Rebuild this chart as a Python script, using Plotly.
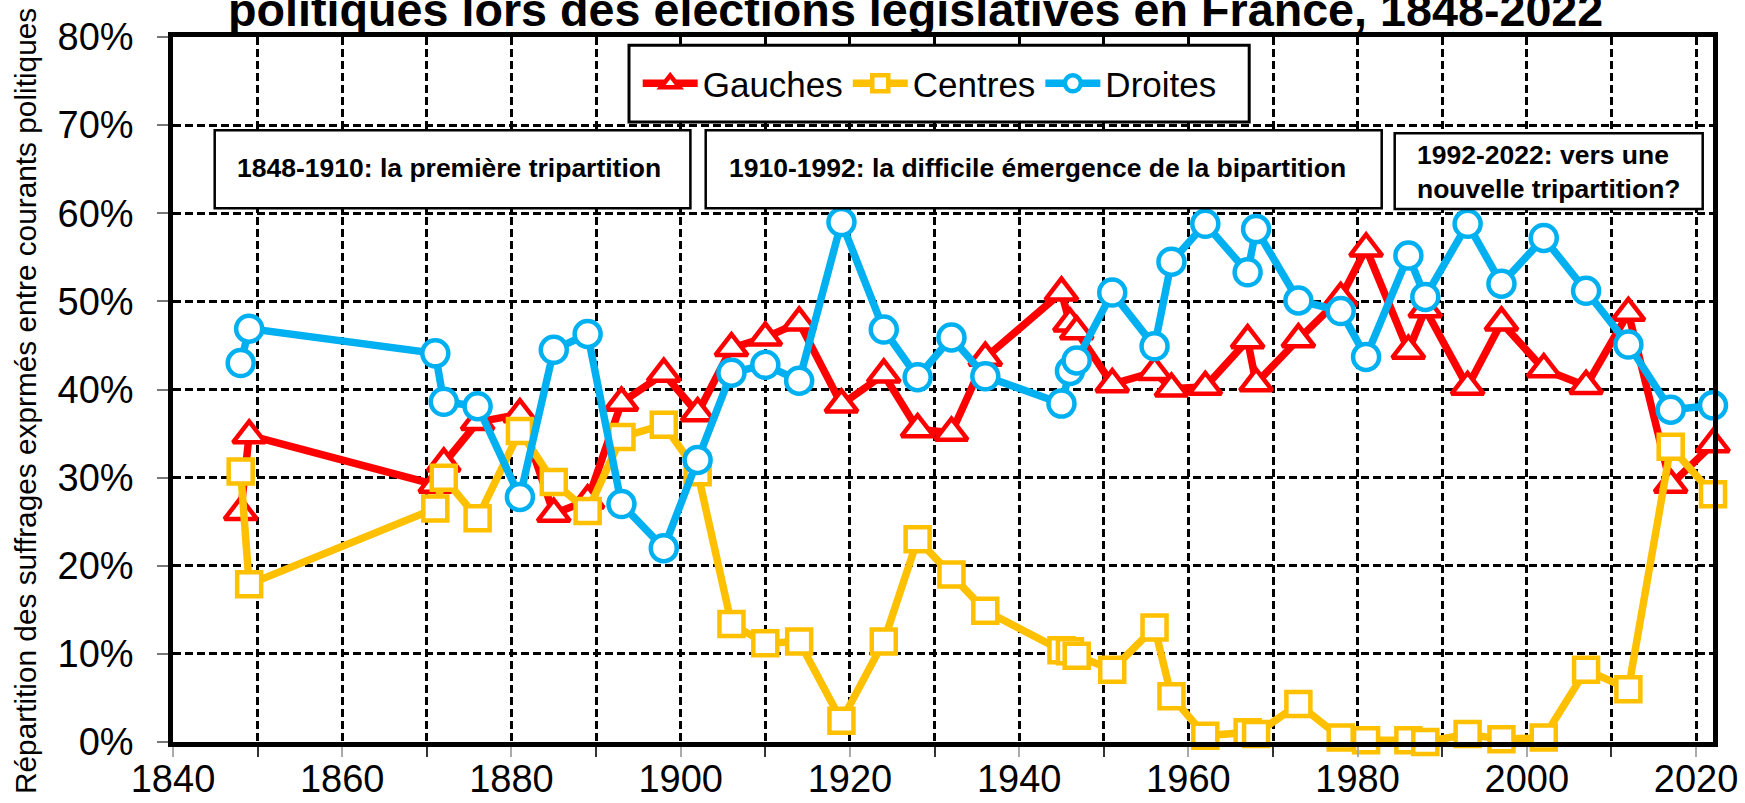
import plotly.graph_objects as go

# ---------------- data ----------------
years = [1848, 1849, 1871, 1872, 1876, 1881, 1885, 1889, 1893, 1898, 1902, 1906, 1910,
         1914, 1919, 1924, 1928, 1932, 1936, 1945, 1946, 1946.8, 1951, 1956, 1958, 1962,
         1967, 1968, 1973, 1978, 1981, 1986, 1988, 1993, 1997, 2002, 2007, 2012, 2017, 2022]

gauches = [26.1, 34.8, 29.2, 31.6, 36.3, 37.2, 25.9, 27.4, 38.5, 41.8, 37.3, 44.7, 45.9,
           47.6, 38.3, 41.7, 35.5, 35.1, 43.6, 51.0, 47.5, 46.6, 40.6, 42.0, 40.1, 40.3,
           45.6, 40.7, 45.7, 50.4, 56.0, 44.4, 49.1, 40.3, 47.6, 42.3, 40.4, 48.7, 29.2, 33.8]

centres = [30.7, 17.9, 26.5, 30.0, 25.4, 35.3, 29.5, 26.2, 34.6, 36.0, 30.6, 13.4, 11.2,
           11.4, 2.4, 11.4, 23.0, 19.0, 14.9, 10.4, 10.3, 9.8, 8.2, 13.0, 5.2, 0.7,
           1.1, 0.9, 4.3, 0.5, 0.2, 0.2, 0.0, 0.9, 0.3, 0.5, 8.2, 6.0, 33.5, 28.1]

droites = [43.0, 46.9, 44.1, 38.6, 38.1, 27.8, 44.5, 46.3, 27.0, 22.0, 32.0, 41.9, 42.8,
           41.0, 59.0, 46.8, 41.4, 45.9, 41.5, 38.4, 42.1, 43.3, 51.0, 44.9, 54.5, 58.8,
           53.3, 58.2, 50.1, 48.9, 43.7, 55.2, 50.5, 58.8, 52.0, 57.2, 51.2, 45.1, 37.7, 38.2]

series_names = ["Gauches", "Centres", "Droites"]
x_ticks = [1840, 1860, 1880, 1900, 1920, 1940, 1960, 1980, 2000, 2020]
y_ticks = [0, 10, 20, 30, 40, 50, 60, 70, 80]
y_ticktext = ["%d%%" % v for v in y_ticks]

title_text = "politiques lors des élections législatives en France, 1848-2022"
ytitle_text = "Répartition des suffrages exprmés entre courants politiques"
box_texts = ["1848-1910: la première tripartition",
             "1910-1992: la difficile émergence de la bipartition",
             "1992-2022: vers une<br>nouvelle tripartition?"]

# ---------------- layout geometry ----------------
W, H = 1745, 803
L, R, T, B = 173.3, 1713.3, 36.7, 741.7
PW, PH = R - L, B - T


def px(x):
    return (x - L) / PW


def py(y):
    return (B - y) / PH


FONT = "Liberation Sans, Arial, sans-serif"
RED, YEL, BLUE = "#FF0000", "#FFC000", "#00B0F0"

fig = go.Figure()
styles = [
    (gauches, RED, "triangle-up", 28),
    (centres, YEL, "square", 24),
    (droites, BLUE, "circle", 26),
]
for name, (vals, col, sym, sz) in zip(series_names, styles):
    fig.add_trace(go.Scatter(
        x=years, y=vals, name=name, mode="lines+markers", cliponaxis=False,
        line=dict(color=col, width=7.5),
        marker=dict(symbol=sym, size=sz, color="white", line=dict(color=col, width=4.5)),
    ))

DASH = "8px,4px"
grid = dict(showgrid=True, gridcolor="black", gridwidth=2.5, griddash=DASH)

fig.update_xaxes(
    range=[1840, 2022], tickmode="array", tickvals=x_ticks, tickformat="d",
    ticks="outside", ticklen=10, tickcolor="#aaaaaa", tickwidth=1.5,
    ticklabelstandoff=-10,
    tickfont=dict(family=FONT, size=38, color="black"), automargin=False,
    showline=True, linecolor="black", linewidth=4.5, mirror=True, zeroline=False,
    minor=dict(dtick=10, tick0=1840, ticks="outside", ticklen=10, tickcolor="#333333",
               showgrid=True, gridcolor="black", gridwidth=2.5, griddash=DASH),
    **grid,
)
fig.update_yaxes(
    range=[0, 80], tickmode="array", tickvals=y_ticks, ticktext=y_ticktext,
    ticks="outside", ticklen=11, tickcolor="#777777", tickwidth=1.5,
    ticklabelstandoff=16, automargin=False,
    tickfont=dict(family=FONT, size=38, color="black"),
    showline=True, linecolor="black", linewidth=4.5, mirror=True, zeroline=False,
    **grid,
)

shapes = []
boxes = [
    (629.3, 45, 1249.5, 121.7, 3),
    (215, 130, 690.7, 208, 2.5),
    (706, 130, 1382, 208, 2.5),
    (1395, 133, 1703, 208.6, 2.5),
]
for x0, y0, x1, y1, lw in boxes:
    shapes.append(dict(type="rect", xref="paper", yref="paper", layer="above",
                       x0=px(x0), x1=px(x1), y0=py(y1), y1=py(y0),
                       fillcolor="white", line=dict(color="black", width=lw)))

annotations = [
    dict(text="<b>%s</b>" % title_text, x=px(916), y=py(10), xref="paper", yref="paper",
         xanchor="center", yanchor="middle", showarrow=False,
         font=dict(family=FONT, size=46.7, color="black")),
    dict(text=ytitle_text, x=px(26), y=py(401), xref="paper", yref="paper",
         xanchor="center", yanchor="middle", showarrow=False, textangle=-90,
         font=dict(family=FONT, size=29.8, color="black")),
    dict(text="<b>%s</b>" % box_texts[0], x=px(235), y=py(167.5), xref="paper", yref="paper",
         xanchor="left", yanchor="middle", showarrow=False, align="left",
         font=dict(family=FONT, size=26.5, color="black")),
    dict(text="<b>%s</b>" % box_texts[1], x=px(727), y=py(167.5), xref="paper", yref="paper",
         xanchor="left", yanchor="middle", showarrow=False, align="left",
         font=dict(family=FONT, size=26.5, color="black")),
    dict(text="<b>%s</b>" % box_texts[2], x=px(1415), y=py(172), xref="paper", yref="paper",
         xanchor="left", yanchor="middle", showarrow=False, align="left",
         font=dict(family=FONT, size=26.5, color="black")),
]

fig.update_layout(
    width=W, height=H,
    margin=dict(l=L, r=W - R, t=T, b=H - B, pad=0, autoexpand=False),
    paper_bgcolor="white", plot_bgcolor="white",
    showlegend=True,
    legend=dict(orientation="h", x=px(638), y=py(83.3), xanchor="left", yanchor="middle",
                bgcolor="rgba(0,0,0,0)", borderwidth=0,
                font=dict(family=FONT, size=35, color="black"),
                itemwidth=55, traceorder="normal"),
    shapes=shapes, annotations=annotations,
    font=dict(family=FONT, color="black"),
)

fig.write_html(
    "out.html",
    config={"displayModeBar": False},
    post_script="document.body.style.margin='0px';document.body.style.padding='0px';"
                "document.body.style.overflow='hidden';",
)
